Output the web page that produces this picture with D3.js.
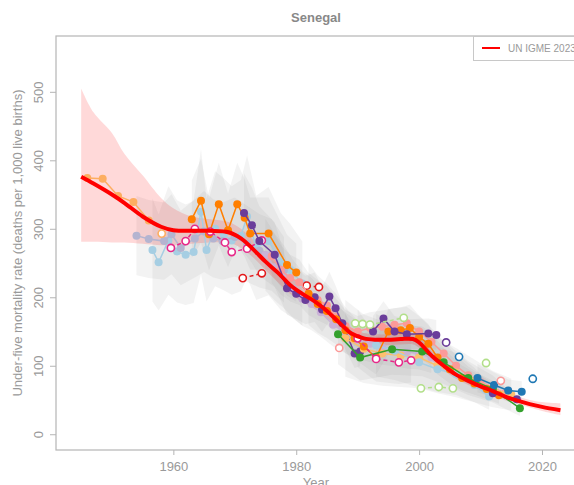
<!DOCTYPE html>
<html>
<head>
<meta charset="utf-8">
<script src="https://cdn.jsdelivr.net/npm/d3@7"></script>
<style>
  body { margin: 0; background: #fff; }
  text { font-family: "Liberation Sans", Arial, sans-serif; }
</style>
</head>
<body>
<div id="chart"></div>
<script>
const width = 574;
const height = 485;

// UN IGME estimate and its uncertainty band
const igmeYears  = [1945,1947,1950,1952,1955,1958,1960,1963,1966,1969,1971,1973,1975,1977,1979,1981,1983,1985,1987,1989,1991,1993,1995,1997,1999,2000,2002,2004,2006,2008,2010,2012,2014,2016,2018,2020,2023];
const igmeValues = [376,366,350,338,318,303,298,297,297,295,286,270,252,236,218,205,194,180,163,147,140,138,138,139,139,134,115,100,87,78,70,63,55,49,44,40,35];
const igmeLower  = [281,281,280,280,278,276,276,278,280,280,272,258,240,222,205,193,183,170,154,139,132,130,130,131,131,126,108,93,81,72,65,58,50,44,39,34,28];
const igmeUpper  = [505,470,440,410,378,345,330,318,314,310,300,284,265,248,230,216,205,188,171,155,148,146,146,147,147,142,122,107,93,84,76,69,61,55,50,47,45];

// survey / census series: [year, value]
const lightOrangeEarly = [[1946,374],[1948.5,373],[1951,348],[1953.5,339],[1956,312]];
const lightOrangeOpen  = [[1958.1,293]];
const lightBlueEarly = [[1956.6,269],[1957.6,251],[1959.2,283],[1960.6,267],[1962,262],[1963.3,266],[1964.5,325],[1965.4,269],[1966.8,300],[1968.2,292],[1969.5,283],[1971,290],[1972,318],[1973.5,272],[1975.5,282],[1977.5,252],[1979,240],[1981,220]];
const greyLilacEarly = [[1954,290],[1956,285],[1958.5,282],[1959.7,292],[1961.2,272],[1963.5,286],[1965,296],[1966.5,286],[1968,282],[1970,288],[1972,278],[1974,268],[1976,262],[1978,240]];
const orangeEarly = [[1963,314],[1964.5,341],[1965.8,292],[1967.4,336],[1968.9,298],[1970.4,336],[1971.6,316],[1972.5,293],[1975.5,293],[1978.5,247],[1980,236]];
const magentaOpenEarly = [[1959.6,272],[1962,282],[1963.5,300],[1966,296],[1968.4,280],[1969.5,266],[1972,271],[1974.4,283]];
const redOpenA = [[1971.3,228],[1974.4,235]];
const redOpenB = [[1981.7,217],[1983.7,215]];
const purpleA = [[1971.5,323],[1972.8,305],[1974,282],[1976.5,262],[1978.5,213],[1980,205],[1981.5,196],[1983,200],[1984.2,182],[1985.4,201],[1986.4,184],[1987.5,162],[1989.5,118],[1990.4,121]];
const purpleB = [[1992.5,150],[1994.2,169],[1996,150],[1998,146],[2001.5,147],[2002.8,145]];
const purpleOpen = [[2004.4,134]];
const purpleC = [[2012,60],[2015.9,51]];
const lilac = [[1975,262],[1976.5,244],[1978,230],[1979.5,212],[1981,198],[1982.5,190],[1984,178],[1986,160],[1988,148],[1990,138],[1992,132],[1994,127],[1996,124],[1998,120],[2000,118],[2002,112]];
const pink = [[1976,260],[1977.5,240],[1979,228],[1980.5,222],[1982,205],[1983.5,196],[1985,188],[1986.5,172],[1988,158],[1990,150],[1992,155],[1994,157],[1996,160],[1998,162],[2000,150],[2002,135],[2004,118],[2006,100],[2008,86],[2010,76],[2012,68],[2014,60]];
const orangeLate = [[1982,205],[1983.5,190],[1985,180],[1986.5,168],[1988,152],[1989.5,140],[1991,128],[1993,112],[1995,150],[1997,152],[1998.5,155],[2000,142],[2001.5,132],[2003,112],[2005,95],[2007,82],[2009,74],[2011,66],[2013,57]];
const lightOrangeLate = [[1988,140],[1991,125],[1994,118],[1997,115],[2000,112],[2003,100],[2006,90],[2009,78],[2012,66],[2015,58]];
const lightBlueLate = [[1993,130],[1996,122],[2000,105],[2003,95],[2006,88],[2009,72],[2011.4,55]];
const green = [[1986.8,146],[1990.4,112],[1995.6,124],[2000.5,121],[2004,105],[2008,82],[2012,66],[2016.4,38]];
const lightGreenOpenA = [[1989.6,162],[1990.8,161],[1992,160],[1997.5,170]];
const lightGreenOpenB = [[2000.3,67],[2003.2,69],[2005.5,67]];
const lightGreenOpenC = [[2010.9,104]];
const blue = [[2009.5,82],[2012.2,72],[2014.5,64],[2016.7,62]];
const blueOpenA = [[2006.5,113]];
const blueOpenB = [[2018.5,81]];
const magentaOpenLate = [[1990,140],[1993,110],[1996.7,105],[1998.7,108]];
const pinkOpenA = [[1987,126]];
const pinkOpenB = [[2013.3,78]];

// relative half-width of each survey's grey uncertainty band
const bandHalfWidth = {lightBlueEarly: 0.28, greyLilacEarly: 0.2, orangeEarly: 0.18, purpleA: 0.18, lilac: 0.2, pink: 0.15, orangeLate: 0.22, lightOrangeLate: 0.4, lightBlueLate: 0.35, green: 0.3, blue: 0.25, purpleB: 0.15, magentaOpenLate: 0.3};

const xTicks = [1960, 1980, 2000, 2020];
const yTicks = [0, 100, 200, 300, 400, 500];

const series = [
  {name: "lightBlueEarly", data: lightBlueEarly, color: "#a6cee3"},
  {name: "greyLilacEarly", data: greyLilacEarly, color: "#b4b4d0"},
  {name: "lightOrangeEarly", data: lightOrangeEarly, color: "#fdae61"},
  {name: "lightOrangeOpen", data: lightOrangeOpen, color: "#fdae61", open: true},
  {name: "orangeEarly", data: orangeEarly, color: "#ff7f00"},
  {name: "magentaOpenEarly", data: magentaOpenEarly, color: "#e7298a", open: true},
  {name: "redOpenA", data: redOpenA, color: "#e31a1c", open: true},
  {name: "redOpenB", data: redOpenB, color: "#e31a1c", open: true},
  {name: "lilac", data: lilac, color: "#cab2d6"},
  {name: "pink", data: pink, color: "#fb9a99"},
  {name: "purpleA", data: purpleA, color: "#6a3d9a"},
  {name: "lightOrangeLate", data: lightOrangeLate, color: "#fdbf6f"},
  {name: "lightBlueLate", data: lightBlueLate, color: "#a6cee3"},
  {name: "orangeLate", data: orangeLate, color: "#ff7f00"},
  {name: "green", data: green, color: "#33a02c"},
  {name: "purpleB", data: purpleB, color: "#6a3d9a"},
  {name: "purpleOpen", data: purpleOpen, color: "#6a3d9a", open: true},
  {name: "purpleC", data: purpleC, color: "#6a3d9a"},
  {name: "magentaOpenLate", data: magentaOpenLate, color: "#e7298a", open: true},
  {name: "lightGreenOpenA", data: lightGreenOpenA, color: "#b2df8a", open: true},
  {name: "lightGreenOpenB", data: lightGreenOpenB, color: "#b2df8a", open: true},
  {name: "lightGreenOpenC", data: lightGreenOpenC, color: "#b2df8a", open: true},
  {name: "blue", data: blue, color: "#1f78b4"},
  {name: "blueOpenA", data: blueOpenA, color: "#1f78b4", open: true},
  {name: "blueOpenB", data: blueOpenB, color: "#1f78b4", open: true},
  {name: "pinkOpenA", data: pinkOpenA, color: "#fb9a99", open: true},
  {name: "pinkOpenB", data: pinkOpenB, color: "#fb9a99", open: true},
];

const plot = {left: 56, top: 36, right: 585, bottom: 450};
const textColor = "#9a9a9a";

const svg = d3.select("#chart")
  .append("svg")
  .attr("width", width)
  .attr("height", height);

const xScale = d3.scaleLinear()
  .domain([1940.9, 2027])
  .range([plot.left, plot.right]);

const yScale = d3.scaleLinear()
  .domain([-23, 581.5])
  .range([plot.bottom, plot.top]);

svg.append("clipPath").attr("id", "clip")
  .append("rect")
  .attr("x", plot.left).attr("y", plot.top)
  .attr("width", plot.right - plot.left).attr("height", plot.bottom - plot.top);

const g = svg.append("g").attr("clip-path", "url(#clip)");

// grey survey bands
const band = d3.area()
  .x(d => xScale(d[0]))
  .y0(d => yScale(d[1] * (1 - d[2])))
  .y1(d => yScale(d[1] * (1 + d[2])));

series.filter(s => bandHalfWidth[s.name]).forEach(s => {
  const p = bandHalfWidth[s.name];
  g.append("path")
    .datum(s.data.map(d => [d[0], d[1], p]))
    .attr("fill", "#9a9a9a")
    .attr("fill-opacity", 0.12)
    .attr("d", band);
});

// IGME uncertainty
const igme = igmeYears.map((yr, i) => ({year: yr, value: igmeValues[i], lo: igmeLower[i], hi: igmeUpper[i]}));

g.append("path")
  .datum(igme)
  .attr("fill", "#ff0000")
  .attr("fill-opacity", 0.15)
  .attr("d", d3.area()
    .x(d => xScale(d.year))
    .y0(d => yScale(d.lo))
    .y1(d => yScale(d.hi))
    .curve(d3.curveCatmullRom));

// survey lines and points
const line = d3.line()
  .x(d => xScale(d[0]))
  .y(d => yScale(d[1]));

series.forEach(s => {
  if (s.data.length > 1) {
    g.append("path")
      .datum(s.data)
      .attr("fill", "none")
      .attr("stroke", s.color)
      .attr("stroke-width", 1.5)
      .attr("stroke-dasharray", s.open ? "4,3" : null)
      .attr("d", line);
  }
  g.selectAll(null)
    .data(s.data)
    .join("circle")
    .attr("cx", d => xScale(d[0]))
    .attr("cy", d => yScale(d[1]))
    .attr("r", s.open ? 3.6 : 4)
    .attr("fill", s.open ? "#fff" : s.color)
    .attr("stroke", s.open ? s.color : "none")
    .attr("stroke-width", 1.6);
});

// IGME line
g.append("path")
  .datum(igme)
  .attr("fill", "none")
  .attr("stroke", "#ff0000")
  .attr("stroke-width", 4)
  .attr("d", d3.line()
    .x(d => xScale(d.year))
    .y(d => yScale(d.value))
    .curve(d3.curveCatmullRom));

// frame
svg.append("rect")
  .attr("x", plot.left).attr("y", plot.top)
  .attr("width", plot.right - plot.left).attr("height", plot.bottom - plot.top)
  .attr("fill", "none")
  .attr("stroke", "#b5b5b5")
  .attr("stroke-width", 1.2);

// axes
const yAxis = svg.append("g")
  .attr("transform", `translate(${plot.left},0)`)
  .call(d3.axisLeft(yScale).tickValues(yTicks).tickSize(6).tickFormat(d3.format("d")));
yAxis.select(".domain").remove();
yAxis.selectAll("line").attr("stroke", "#b5b5b5");
yAxis.selectAll("text")
  .attr("transform", "rotate(-90)")
  .attr("x", 0).attr("y", -13).attr("dy", 0)
  .attr("text-anchor", "middle")
  .attr("fill", textColor)
  .style("font-size", "13px");

const xAxis = svg.append("g")
  .attr("transform", `translate(0,${plot.bottom})`)
  .call(d3.axisBottom(xScale).tickValues(xTicks).tickSize(5).tickFormat(d3.format("d")));
xAxis.select(".domain").remove();
xAxis.selectAll("line").attr("stroke", "#b5b5b5");
xAxis.selectAll("text")
  .attr("y", 12)
  .attr("dy", "0.71em")
  .attr("fill", textColor)
  .style("font-size", "13px");

// titles
svg.append("text")
  .attr("x", 316).attr("y", 22)
  .attr("text-anchor", "middle")
  .attr("fill", "#888")
  .style("font-size", "13px")
  .style("font-weight", "bold")
  .text("Senegal");

svg.append("text")
  .attr("x", 316).attr("y", 487)
  .attr("text-anchor", "middle")
  .attr("fill", textColor)
  .style("font-size", "13px")
  .text("Year");

svg.append("text")
  .attr("transform", `translate(22,${(plot.top + plot.bottom) / 2}) rotate(-90)`)
  .attr("text-anchor", "middle")
  .attr("fill", textColor)
  .style("font-size", "13px")
  .text("Under-five mortality rate (deaths per 1,000 live births)");

// legend
const legend = svg.append("g");
legend.append("rect")
  .attr("x", 473.5).attr("y", 36.5)
  .attr("width", 120).attr("height", 24)
  .attr("fill", "#fff")
  .attr("stroke", "#c8c8c8");
legend.append("line")
  .attr("x1", 482).attr("x2", 500)
  .attr("y1", 48).attr("y2", 48)
  .attr("stroke", "#ff0000")
  .attr("stroke-width", 2);
legend.append("text")
  .attr("x", 508).attr("y", 52)
  .attr("fill", textColor)
  .style("font-size", "10px")
  .text("UN IGME 2023");
</script>
</body>
</html>
